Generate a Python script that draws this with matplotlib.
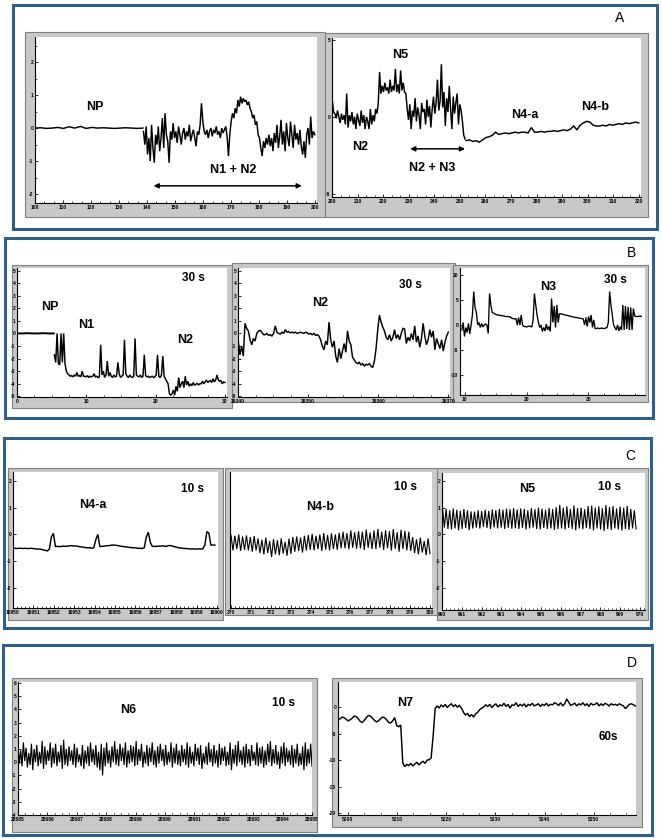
import numpy as np
import matplotlib
matplotlib.use('Agg')
import matplotlib.pyplot as plt
from matplotlib.patches import Rectangle
from matplotlib.ticker import MultipleLocator

plt.rcParams['font.family'] = ['Liberation Sans', 'DejaVu Sans']

# ---------------- data ----------------
# Panel A, left: NP baseline then N1 + N2
a1_flat = [0.0, 0.01, -0.01, 0.0, 0.02, -0.01, 0.04, 0.0, 0.05, -0.01,
           0.02, 0.0, 0.01, 0.0, -0.01, 0.0, 0.01, 0.0, -0.01, 0.0]
a1_noisy = [-0.1, -0.5, 0.05, -0.8, -0.3, -1.0, 0.1, -0.6, -1.05, -0.2,
            -0.5, 0.05, -0.7, -0.3, 0.3, -0.6, 0.45, -0.2, -0.4, -1.05, -0.1, -0.35,
            0.15, -0.3, -0.1, -0.45, 0.05, -0.2, -0.5, -0.15, 0.0, -0.35,
            -0.1, -0.25, 0.1, -0.4, -0.2, -0.05, -0.3, -0.55, -0.1, -0.2,
            0.1, 0.75, 0.2, -0.1, -0.2,
            -0.05, -0.3, -0.1, 0.0, -0.25, -0.05, -0.15, 0.05, -0.2, -0.1, -0.3, 0.0,
            -0.15, -0.05, 0.05, -0.25,
            -0.85, -0.2, 0.2, 0.45,
            0.3, 0.6, 0.45, 0.85, 0.65, 0.95, 0.75, 0.9, 0.8, 0.85, 0.7, 0.8,
            0.6, 0.5, 0.3, 0.4, 0.1, 0.2, -0.2, -0.3, -0.6,
            -0.85, -0.4, -0.6, -0.3,
            -0.5, -0.2, -0.55, -0.3, -0.7, -0.15, -0.45, 0.1, -0.6, -0.25, 0.25, -0.5,
            -0.1, -0.7, 0.15, -0.3, -0.55, 0.2, -0.2, -0.6, 0.1, -0.35, -0.15, -0.5, -0.05,
            -0.55, -0.8, -0.4, -0.9, -0.2, 0.0, -0.5, 0.35, -0.3, -0.1, -0.2]
a1_flat_t = (100, 138.5)
a1_noisy_t = (138.7, 199.8)
a1_ticks = ['100', '110', '120', '130', '140', '150', '160', '170', '180', '190', '200']

# Panel A, right: N2, N5, N2 + N3, N4-a, N4-b
a2_noisy = [1.1, 0.3,
            0.2, -0.1, 0.4, 0.0, -0.4, 0.2, -0.2, 0.1, -0.5,
            1.5, -0.7,
            0.1, -0.3, 0.3, -0.5, 0.0, -0.8, 0.2, -0.2, -0.6, 0.4, -0.4, 0.1, -0.8, 0.0,
            -0.3, -0.8, 0.5, -0.5, 0.1, -0.3,
            0.5, 0.2, 0.9,
            2.9, 1.5, 2.0, 1.6, 2.2, 1.7, 1.9, 1.5, 2.4, 1.6, 2.0, 1.7, 3.1, 1.6, 2.1,
            1.5, 3.0, 1.7, 2.2, 1.6,
            1.5, 0.5, -0.2,
            0.8, -0.8, 0.4, 0.0, 1.2, -0.3, 0.6, 0.1, -0.8, 0.9, 0.3, 0.5, -0.5, 1.1,
            0.0, 0.7, -0.7, 0.5, 1.3, 0.2, 0.9, 2.4, 0.4, 1.0, 3.4, 0.6, 1.6, -0.6, 1.2,
            0.3, 2.0, 0.5, -0.8, 1.3, 0.2, 0.9, 1.5, -0.5, 0.8, 0.4,
            -0.3, -1.2, -1.45]
a2_smooth = [-1.55, -1.5, -1.6, -1.55, -1.65, -1.5, -1.35, -1.3, -1.2, -1.0, -1.15,
             -1.1, -1.05, -1.1, -1.05, -1.0, -1.05, -1.0, -1.0, -1.05, -0.7, -1.0,
             -1.0, -0.95, -1.0, -0.95, -0.95, -0.9, -0.95, -0.9, -0.85, -0.9,
             -0.8, -0.6, -0.85, -0.55, -0.4, -0.3, -0.35, -0.55,
             -0.6, -0.6, -0.55, -0.6, -0.5, -0.55, -0.5, -0.45, -0.5, -0.4, -0.45,
             -0.4, -0.35, -0.4]
a2_noisy_t = (200, 252.0)
a2_smooth_t = (252.5, 320)
a2_ticks = ['200', '210', '220', '230', '240', '250', '260', '270', '280', '290',
            '300', '310', '320']

# Panel B, left: NP, N1, N2
b1_flat = [0.0, 0.0, 0.02, 0.0, 0.0, 0.02, 0.0, 0.0]
b1_rest = [-1.7, -2.3, 0.0, -2.4, -2.5, 0.0, -2.3, 0.0,
           -2.4, -3.0, -3.2, -3.3, -3.4,
           -3.35, -3.45, -3.3, -3.4, -3.1, -3.4, -3.35, -3.45, -3.0, -3.4, -3.4,
           -3.45, -3.35, -3.5, -3.4, -3.45, -3.4, -3.2, -3.45, -3.4, -3.5, -3.45,
           -0.9, -3.3, -3.0, -3.5, -3.3, -2.2, -3.4, -3.1,
           -3.4, -3.5, -3.3, -3.45, -3.4, -2.3, -3.2, -3.5, -3.4, -3.3, -0.5, -3.2,
           -3.4, -3.5, -3.3, -3.45, -3.5, -3.4,
           -0.4, -3.3, -3.4, -3.45, -3.3, -3.5, -3.4, -1.7, -3.35, -3.45,
           -3.4, -3.5, -3.45, -3.4, -3.5, -3.45, -3.3, -1.7, -3.4, -3.5, -3.3, -1.8,
           -3.4, -3.6, -3.8, -4.0,
           -4.8, -4.9, -4.8, -4.5, -4.9, -4.2, -4.6, -3.5,
           -4.3, -4.0, -3.8, -4.3, -3.4, -4.1, -3.8, -4.2, -4.0, -4.15, -3.9, -4.1,
           -4.05, -3.95, -4.1, -4.0,
           -4.0, -3.8, -4.0, -3.85, -3.7, -3.9, -3.8, -3.75, -3.9, -3.6, -3.85, -3.7,
           -3.3, -3.7, -3.8, -3.75, -4.0, -3.85, -3.9]
b1_flat_t = (0, 5.3)
b1_rest_t = (5.4, 30.0)
b1_ticks = ['0', '10', '20', '30']

# Panel B, middle: N2
b2_vals = [-0.6, -1.7, -1.0, -1.8,
           0.8, 0.4, 0.2,
           -0.5, -0.9, -0.4, -0.6,
           0.0, 0.2, 0.25, 0.1, -0.1,
           -0.1, 0.0, -0.15, -0.1, -0.2, 0.0,
           0.6, 0.1,
           0.0, -0.05, 0.1, 0.0, 0.3,
           0.1, 0.15, 0.05, 0.1, 0.05, 0.1, 0.0, 0.05, 0.1, 0.05, 0.0, 0.1, 0.05, -0.05, 0.0,
           -0.1, 0.0, -0.15, -0.1, -0.2, -0.5,
           -1.0, -1.3, -0.6, -0.9,
           0.9,
           -0.5, -1.1, -0.6, -1.8, -2.3, -1.2, -2.0, -1.4, -0.8, -1.5,
           0.2, -0.6, -0.9,
           -1.9, -2.1, -2.3, -2.4, -2.3,
           -2.5, -2.4, -2.6, -2.45, -2.5, -2.4, -2.6, -2.7,
           -2.2, -1.2, 0.3,
           1.45, 0.9, 0.5,
           0.2, -0.3, -0.5, -0.1, -0.6, -0.3, 0.3, -0.4, -0.1, -0.5, 0.0, 0.4,
           0.35, -0.8, -0.3, -0.6, 0.0, -0.5, 0.6, -0.7,
           -0.2, -1.1, -0.4, 0.8, -0.2, -0.9, -0.5, 0.3,
           -0.3, 0.2, -1.3, -0.4, -0.8, -1.2, -0.5, -1.4, -0.7, -0.2, 0.1]
b2_t = (26340, 26370)
b2_ticks = ['26340', '26350', '26360', '26370']

# Panel B, right: N3
b3_vals = [-1.0, 0.5, -2.3, -0.5, -1.5, 0.3, -1.8, 0.0,
           2.0, 6.7, 3.5, 2.5,
           0.0, 0.5, -0.5, 0.3, -0.4,
           0.0, 0.2, 0.0, -1.7,
           6.3, 4.0, 2.5,
           2.4, 2.2, 2.1, 2.0, 2.0, 1.9, 1.9, 1.8, 1.8, 1.7, 1.7, 1.7, 1.6, 1.6, 1.3,
           1.3, 1.2, 1.3, 0.0, 1.5, 0.0, 2.0, 0.0,
           -0.3, -0.3, -0.4, -0.3, -0.2, -0.3, -0.4, 1.0,
           6.3, 4.0, 2.0, 0.5, -0.5,
           0.0, -1.3, -0.5, -1.2, 0.2, -1.0, -0.3, -1.3,
           5.3, 0.5, 3.8, -0.5, 4.0, 0.5,
           2.3, 2.2, 2.2, 2.1, 2.0, 2.0, 1.9, 1.8, 1.8, 1.7, 1.6, 1.6, 1.5, 1.5, 1.4,
           1.4, 1.3, 1.3, 1.2,
           0.0, 1.5, -0.3, 1.7, 0.5, 2.0, -0.5, 1.0,
           -0.7, -0.7, -0.6, -0.7, -0.7, -0.6, -0.7, -0.7, -0.6, -0.5,
           0.5, 6.7, 4.0, 2.0, 0.0, -0.5,
           -1.0, 0.0, -1.2, -0.3, -1.0,
           4.0, -1.0, 3.8, -0.8, 3.6, -1.0, 3.5, -1.0, 3.3,
           1.8, 1.7, 1.7, 1.7, 1.8, 1.7]
b3_t = (9.5, 38.6)
b3_ticks = ['10', '20', '30']

# Panel C, left: N4-a
c1_vals = [-0.52, -0.52, -0.53, -0.52, -0.52, -0.53, -0.52, -0.53, -0.53, -0.52,
           -0.53, -0.54, -0.55, -0.55, -0.56, -0.58, -0.6, -0.62,
           -0.55, -0.1, 0.04, -0.45,
           -0.45, -0.46, -0.45, -0.44, -0.45, -0.44, -0.43, -0.42, -0.44, -0.43,
           -0.45, -0.46, -0.47, -0.48, -0.5, -0.5, -0.5, -0.52, -0.5,
           -0.2, 0.0, -0.45,
           -0.45, -0.44, -0.43, -0.42, -0.42, -0.4, -0.4, -0.41, -0.42, -0.44, -0.45,
           -0.46, -0.47, -0.48, -0.49, -0.5, -0.5, -0.51, -0.52, -0.52, -0.53, -0.5,
           -0.1, 0.08, -0.3, -0.45,
           -0.45, -0.45, -0.44, -0.44, -0.43, -0.44, -0.45, -0.42, -0.42, -0.44,
           -0.46, -0.48, -0.5, -0.51, -0.52, -0.53, -0.53, -0.54, -0.55, -0.54,
           -0.55, -0.55, -0.54, -0.55, -0.54, -0.4,
           0.1, 0.05, -0.4, -0.4, -0.4]
c1_t = (16950, 16959.9)
c1_ticks = ['16950', '16951', '16952', '16953', '16954', '16955', '16956',
            '16957', '16958', '16959', '16960']

# Panel C, middle: N4-b (cycle maxima / minima)
c2_peaks = [-0.02, -0.05, 0.0, -0.08, -0.04, -0.1, -0.06,
            -0.15, -0.2, -0.12, -0.25, -0.18, -0.22, -0.15, -0.28, -0.16,
            -0.1, -0.08, -0.12, -0.05,
            -0.02, 0.02, -0.05, 0.0, 0.05, -0.02, 0.04, 0.0, 0.06,
            0.1, 0.05, 0.15, 0.08, 0.12, 0.1, 0.18, 0.07,
            0.15, 0.2, 0.1, 0.16, 0.12, 0.2, 0.08, 0.17, 0.13, 0.1,
            -0.1, -0.18, -0.12, -0.25, -0.15]
c2_troughs = [-0.6, -0.55, -0.62, -0.58, -0.6, -0.65, -0.6,
              -0.7, -0.75, -0.7, -0.85, -0.75, -0.78, -0.72, -0.8, -0.73,
              -0.65, -0.62, -0.68, -0.6,
              -0.58, -0.6, -0.55, -0.62, -0.57, -0.6, -0.55, -0.58, -0.52,
              -0.52, -0.55, -0.5, -0.54, -0.52, -0.58, -0.5, -0.55,
              -0.55, -0.5, -0.58, -0.52, -0.6, -0.54, -0.65, -0.55, -0.6, -0.62,
              -0.7, -0.75, -0.68, -0.78, -0.72]
c2_t = (370, 380)
c2_ticks = ['370', '371', '372', '373', '374', '375', '376', '377', '378', '379', '380']

# Panel C, right: N5
c3_peaks = [0.98, 0.95, 0.9, 0.97, 0.92, 0.88, 0.95, 0.9, 0.86,
            0.85, 0.9, 0.87, 0.92, 0.88, 0.93, 0.9, 0.95, 0.92, 0.96, 0.94, 0.98,
            0.93, 0.97, 0.95, 0.9, 0.98, 0.94, 1.0, 0.96, 0.92, 0.99, 0.95, 1.02,
            1.1, 1.0, 1.05, 0.95, 1.08, 0.98, 1.0, 0.94, 1.06,
            1.08, 1.0, 1.05, 0.98, 1.1, 1.02, 1.06, 0.97, 1.04, 1.0, 1.06, 0.95, 0.9]
c3_troughs = [0.25, 0.2, 0.18, 0.22, 0.15, 0.2, 0.24, 0.16, 0.22,
              0.25, 0.22, 0.28, 0.24, 0.2, 0.26, 0.22, 0.25, 0.2, 0.24, 0.21, 0.23,
              0.2, 0.24, 0.18, 0.22, 0.25, 0.2, 0.18, 0.24, 0.2, 0.22, 0.16, 0.2,
              0.22, 0.18, 0.24, 0.2, 0.15, 0.22, 0.19, 0.24, 0.2,
              0.15, 0.22, 0.18, 0.12, 0.2, 0.16, 0.22, 0.18, 0.14, 0.2, 0.17, 0.22, 0.2]
c3_t = (960.03, 969.8)
c3_ticks = ['960', '961', '962', '963', '964', '965', '966', '967', '968', '969', '970']

# Panel D, left: N6
d1_peaks = [1.3, 0.9, 1.5, 1.1, 0.7, 1.4, 1.0, 1.3, 0.8, 1.6,
            1.2, 0.9, 1.5, 1.1, 1.4, 0.8, 1.3, 1.7, 1.0, 1.2,
            0.9, 1.4, 1.1, 0.6, 1.3, 0.9, 1.2, 1.5, 1.0, 1.3,
            0.8, 1.4, 1.1, 1.5, 0.9, 1.2, 1.6, 1.0, 1.4, 1.1,
            1.5, 0.9, 1.3, 1.2, 1.6, 1.0, 1.4, 0.8, 1.3, 1.1,
            1.5, 0.9, 1.2, 1.4, 1.0, 1.3, 0.8, 1.5, 1.1, 1.4,
            0.9, 1.3, 1.0, 1.5, 1.2, 0.8, 1.4, 1.1, 1.3, 0.7,
            1.2, 1.5, 1.0, 1.3, 0.9, 1.4, 1.1, 1.2, 0.8, 1.5,
            1.0, 1.3, 1.6, 0.9, 1.2, 1.4, 1.0, 1.3, 0.8, 1.5,
            1.1, 1.2, 0.9, 1.4, 1.6, 1.0, 1.3, 0.8, 1.2, 1.5,
            1.1, 0.9, 1.3, 1.0, 1.4, 0.7, 1.2, 1.5, 1.0, 1.4]
d1_troughs = [-0.1, -0.3, 0.1, -0.4, -0.2, -0.6, 0.0, -0.3, -0.1, -0.5,
              -0.2, 0.1, -0.4, -0.1, -0.3, 0.0, -0.5, -0.2, -0.3, 0.1,
              -0.2, -0.4, 0.0, -0.3, -0.5, -0.1, -0.3, 0.0, -0.2, -0.4,
              -0.6, -1.0, -0.3, -0.1, -0.4, 0.0, -0.2, -0.3, 0.1, -0.2,
              -0.4, -0.1, 0.0, -0.3, -0.2, 0.1, -0.4, -0.1, -0.3, 0.0,
              -0.2, -0.4, -0.1, 0.1, -0.3, -0.2, 0.0, -0.4, -0.1, -0.2,
              -0.3, 0.0, -0.2, -0.4, -0.1, -0.3, 0.1, -0.2, -0.5, -0.1,
              -0.2, 0.0, -0.3, -0.1, -0.4, -0.2, 0.1, -0.3, -0.2, -0.6,
              -0.1, -0.3, 0.0, -0.2, -0.4, -0.1, -0.3, 0.1, -0.2, -0.3,
              -0.1, -0.4, -0.2, 0.0, -0.3, -0.1, -0.2, -0.5, -0.1, -0.3,
              0.0, -0.2, -0.4, -0.1, -0.3, -0.2, -0.6, -0.3, -0.1, -0.3]
d1_t = (28685, 28695)
d1_ticks = ['28685', '28686', '28687', '28688', '28689', '28690', '28691',
            '28692', '28693', '28694', '28695']

# Panel D, right: N7
d2_vals = [-2.5, -2.2, -1.9, -2.0, -2.3, -2.6, -2.4, -2.1, -1.7, -1.8,
           -2.2, -2.7, -2.9, -2.5, -2.0, -1.6, -1.7, -2.1, -2.5, -2.8,
           -2.6, -2.2, -1.9, -2.0, -2.4, -2.9, -3.0, -2.6, -2.0,
           -3.5, -3.7, -3.4,
           -10.5, -11.2, -10.8, -11.0, -10.6, -11.1, -10.7, -10.4, -10.9, -10.5,
           -10.2, -10.6, -10.0, -9.9, -9.6,
           -5.5, -0.3,
           0.2, -0.2, 0.4, 0.0, 0.5, -0.1, 0.3, 0.6, 0.1, 0.4, 0.0, 0.3, -0.2,
           -1.0, -1.5, -1.2, -1.8, -1.4, -1.9, -1.3, -1.0, -0.5, -0.2,
           0.0, 0.4, 0.1, 0.5, -0.1, 0.3, 0.6, 0.0, 0.4, 0.2,
           0.7, 0.1, 0.5, -0.2, 0.4, 0.3, 0.8, 0.1, 0.5, 0.2,
           0.6, 0.0, 0.5, 0.3, 0.7, 0.2, 0.4, 0.6, 0.1, 0.5,
           0.3, 0.7, 0.2, 0.5, 0.4, 0.8, 0.6, 0.3, 0.8, 0.2,
           0.6, 1.5, 0.9, 0.3, 0.5, 0.7, 0.2, 0.6, 0.4, 0.8,
           0.3, 0.6, 0.1, 0.7, 0.4, 0.5, 0.8, 0.2, 0.6, 0.3,
           0.7, 0.5, 0.2, 0.6, 0.4, 0.5, 0.3, 0.6, 0.4, 0.2,
           -0.3, 0.1, 0.5, 0.6, 0.4, 0.2]
d2_t = (5198.0, 5258.5)
d2_ticks = ['5200', '5210', '5220', '5230', '5240', '5250']

# ---------------- figure ----------------
W, H = 662, 839
BLUE = '#2D5F8F'
GRAY = '#C8C8C8'
fig = plt.figure(figsize=(W / 100, H / 100), dpi=100)


def fr(x0, y0, x1, y1):
    return [x0 / W, 1 - y1 / H, (x1 - x0) / W, (y1 - y0) / H]


def box(x0, y0, x1, y1):
    fig.add_artist(Rectangle((x0 / W, 1 - y1 / H), (x1 - x0) / W, (y1 - y0) / H,
                             transform=fig.transFigure, fill=False,
                             edgecolor=BLUE, lw=2.2, zorder=5))


def chart(frame, area, xlim, ylim, xticks, xlabels, xminor, yticks, ylabels, yminor):
    x0, y0, x1, y1 = frame
    fig.add_artist(Rectangle((x0 / W, 1 - y1 / H), (x1 - x0) / W, (y1 - y0) / H,
                             transform=fig.transFigure, facecolor=GRAY,
                             edgecolor='#7f7f7f', lw=0.8, zorder=-1))
    ax = fig.add_axes(fr(*area))
    ax.set_facecolor('white')
    for s in ['top', 'right']:
        ax.spines[s].set_visible(False)
    for s in ['left', 'bottom']:
        ax.spines[s].set_linewidth(0.8)
    ax.set_xlim(*xlim)
    ax.set_ylim(*ylim)
    ax.set_xticks(xticks)
    ax.set_xticklabels(xlabels)
    ax.set_yticks(yticks)
    ax.set_yticklabels(ylabels)
    if xminor:
        ax.xaxis.set_minor_locator(MultipleLocator(xminor))
    if yminor:
        ax.yaxis.set_minor_locator(MultipleLocator(yminor))
    ax.tick_params(which='major', direction='in', length=2.2, width=0.6,
                   labelsize=3.6, pad=1.2)
    ax.tick_params(which='minor', direction='in', length=1.3, width=0.5)
    for lab in ax.get_xticklabels() + ax.get_yticklabels():
        lab.set_fontweight('bold')
    return ax


def seg(ax, tr, vals, lw=1.05):
    t = np.linspace(tr[0], tr[1], len(vals))
    ax.plot(t, vals, color='black', lw=lw, solid_joinstyle='miter')


def osc(ax, tr, peaks, troughs, lw=0.8):
    vals = np.column_stack([peaks, troughs]).ravel()
    seg(ax, tr, vals, lw)


def label(x, y, s, size=9, weight='bold'):
    fig.text(x / W, 1 - y / H, s, ha='center', va='center', fontsize=size,
             fontweight=weight)


def arrow(ax, t0, t1, y):
    ax.annotate('', xy=(t1, y), xytext=(t0, y),
                arrowprops=dict(arrowstyle='<|-|>', color='black', lw=1.1,
                                mutation_scale=7, shrinkA=0, shrinkB=0))


# outer blue boxes
box(13, 5, 657, 229)
box(5, 238, 653, 418)
box(4, 438, 651, 628)
box(3, 645, 652, 835)

# ---- A ----
ax = chart((25, 32, 325, 217), (35, 37, 317, 203), (100, 200.6), (-2.27, 2.76),
           np.arange(100, 201, 10), a1_ticks, 10 / 3,
           [-2, -1, 0, 1, 2], ['-2', '-1', '0', '1', '2'], 0.5)
seg(ax, a1_flat_t, a1_flat)
seg(ax, a1_noisy_t, a1_noisy)
arrow(ax, 142.3, 195.2, -1.75)

ax = chart((325, 33, 648, 217), (332, 38, 641, 197), (199.9, 320.9), (-5.2, 5.1),
           np.arange(200, 321, 10), a2_ticks, 10 / 3,
           [-5, 0, 5], ['-5', '0', '5'], None)
seg(ax, a2_noisy_t, a2_noisy)
seg(ax, a2_smooth_t, a2_smooth)
arrow(ax, 230.5, 252.0, -2.08)

label(620, 18, 'A', size=10, weight='normal')
label(95, 107, 'NP')
label(233, 170, 'N1 + N2')
label(400, 55, 'N5')
label(360, 147, 'N2')
label(432, 168, 'N2 + N3')
label(525, 115, 'N4-a')
label(595, 107, 'N4-b')

# ---- B ----
yt = list(range(-5, 6))
ax = chart((12, 265, 232, 408), (17, 268, 227, 397), (0, 30.3), (-5.05, 5.2),
           [0, 10, 20, 30], b1_ticks, 2.5, yt, [str(v) for v in yt], None)
seg(ax, b1_flat_t, b1_flat, lw=1.4)
seg(ax, b1_rest_t, b1_rest)

ax = chart((232, 263, 455, 402), (238, 268, 450, 397), (26339.96, 26370.24), (-5.05, 5.2),
           [26340, 26350, 26360, 26370], b2_ticks, 2.5, yt, [str(v) for v in yt], None)
seg(ax, b2_t, b2_vals)

ax = chart((453, 265, 648, 402), (460, 268, 645, 395), (9.2, 39.2), (-14, 11.4),
           [10, 20, 30], b3_ticks, 2.5, [-10, -5, 0, 5, 10],
           ['-10', '-5', '0', '5', '10'], None)
seg(ax, b3_t, b3_vals, lw=0.95)

label(632, 253, 'B', size=10, weight='normal')
label(50, 307, 'NP')
label(86, 325, 'N1')
label(185, 340, 'N2')
label(193, 278, '30 s', size=8.5)
label(320, 303, 'N2')
label(410, 285, '30 s', size=8.5)
label(548, 287, 'N3')
label(615, 280, '30 s', size=8.5)

# ---- C ----
yc = [-2, -1, 0, 1, 2]
ax = chart((8, 468, 223, 620), (13, 472, 218, 608), (16950, 16960.05), (-2.76, 2.34),
           np.arange(16950, 16961), c1_ticks, 0.2, yc, [str(v) for v in yc], None)
seg(ax, c1_t, c1_vals)

ax = chart((225, 468, 438, 615), (230, 472, 432, 608), (369.95, 380.1), (-2.76, 2.34),
           np.arange(370, 381), c2_ticks, 0.2, [], [], None)
osc(ax, c2_t, c2_peaks, c2_troughs)

ax = chart((437, 468, 648, 620), (442, 473, 645, 610), (960, 970.25), (-2.84, 2.3),
           np.arange(960, 971), c3_ticks, 0.2, yc, [str(v) for v in yc], None)
osc(ax, c3_t, c3_peaks, c3_troughs)

label(630, 456, 'C', size=10, weight='normal')
label(93, 505, 'N4-a')
label(192, 489, '10 s', size=8.5)
label(320, 507, 'N4-b')
label(405, 487, '10 s', size=8.5)
label(527, 489, 'N5')
label(610, 487, '10 s', size=8.5)

# ---- D ----
yd = list(range(-4, 7))
ax = chart((12, 678, 317, 832), (18, 682, 312, 815), (28685, 28695), (-4.0, 6.08),
           np.arange(28685, 28696), d1_ticks, 0.25, yd, [str(v) for v in yd], None)
osc(ax, d1_t, d1_peaks, d1_troughs, lw=0.85)

ax = chart((332, 678, 642, 827), (338, 682, 636, 815), (5198.0, 5258.6), (-20.3, 4.7),
           np.arange(5200, 5251, 10), d2_ticks, 10 / 3,
           [-20, -15, -10, -5, 0], ['-20', '-15', '-10', '-5', '0'], None)
seg(ax, d2_t, d2_vals)

label(632, 663, 'D', size=10, weight='normal')
label(128, 710, 'N6')
label(283, 703, '10 s', size=8.5)
label(405, 703, 'N7')
label(608, 737, '60s', size=8.5)

fig.savefig('out.png', dpi=100)
